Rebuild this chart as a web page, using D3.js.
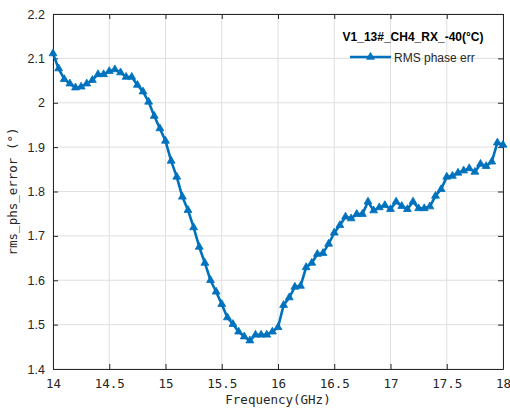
<!DOCTYPE html>
<html>
<head>
<meta charset="utf-8">
<script src="https://cdn.jsdelivr.net/npm/d3@7"></script>
<style>
  html, body { margin: 0; padding: 0; background: #fff; }
  svg { display: block; }
</style>
</head>
<body>
<svg id="chart" width="510" height="410"></svg>
<script>
// Frequency sweep, 14–18 GHz in 0.05 GHz steps
const freqStart = 14;
const freqStep = 0.05;
const rmsPhaseErr = [
  2.111, 2.077, 2.053, 2.043, 2.034, 2.036, 2.043, 2.051, 2.064, 2.064,
  2.071, 2.075, 2.068, 2.058, 2.058, 2.040, 2.025, 2.002, 1.970, 1.942,
  1.914, 1.869, 1.833, 1.788, 1.758, 1.719, 1.675, 1.639, 1.600, 1.574,
  1.546, 1.516, 1.501, 1.484, 1.473, 1.464, 1.477, 1.477, 1.477, 1.484,
  1.494, 1.544, 1.561, 1.585, 1.587, 1.629, 1.639, 1.659, 1.661, 1.682,
  1.707, 1.724, 1.743, 1.739, 1.749, 1.749, 1.777, 1.757, 1.764, 1.769,
  1.760, 1.777, 1.767, 1.760, 1.777, 1.762, 1.762, 1.766, 1.790, 1.805,
  1.833, 1.835, 1.842, 1.847, 1.852, 1.844, 1.862, 1.857, 1.867, 1.910,
  1.905
];
const freqs = rmsPhaseErr.map((_, i) => +(freqStart + i * freqStep).toFixed(2));

const xTicks = [14, 14.5, 15, 15.5, 16, 16.5, 17, 17.5, 18];
const yTicks = [1.4, 1.5, 1.6, 1.7, 1.8, 1.9, 2.0, 2.1, 2.2];
const legendTitle = "V1_13#_CH4_RX_-40(°C)";
const seriesName = "RMS phase err";
const xTitle = "Frequency(GHz)";
const yTitle = "rms_phs_error (°)";

const svg = d3.select("#chart");
const m = { left: 53, right: 503, top: 14, bottom: 369 };

const x = d3.scaleLinear().domain([14, 18]).range([m.left, m.right]);
const y = d3.scaleLinear().domain([1.4, 2.2]).range([m.bottom, m.top]);

const blue = "#0072BD";
const axisColor = "#262626";
const monoFont = "'DejaVu Sans Mono', monospace";
const sansFont = "'Liberation Sans', Arial, sans-serif";

// grid
const grid = svg.append("g");
grid.selectAll("line.gx").data(xTicks).join("line")
  .attr("x1", d => x(d)).attr("x2", d => x(d))
  .attr("y1", m.top).attr("y2", m.bottom)
  .attr("stroke", "#dfdfdf").attr("stroke-width", 1);
grid.selectAll("line.gy").data(yTicks).join("line")
  .attr("x1", m.left).attr("x2", m.right)
  .attr("y1", d => y(d)).attr("y2", d => y(d))
  .attr("stroke", "#dfdfdf").attr("stroke-width", 1);

// axes with inward ticks
const xAxis = d3.axisBottom(x).tickValues(xTicks).tickSizeInner(-5).tickSizeOuter(0)
  .tickPadding(10).tickFormat(d3.format("~g"));
const yAxis = d3.axisLeft(y).tickValues(yTicks).tickSizeInner(-5).tickSizeOuter(0)
  .tickPadding(8).tickFormat(d3.format(".1f"));
const xAxisTop = d3.axisTop(x).tickValues(xTicks).tickSizeInner(-5).tickSizeOuter(0).tickFormat("");
const yAxisRight = d3.axisRight(y).tickValues(yTicks).tickSizeInner(-5).tickSizeOuter(0).tickFormat("");

function styleAxis(g) {
  g.select(".domain").attr("stroke", axisColor);
  g.selectAll(".tick line").attr("stroke", axisColor);
  g.selectAll(".tick text").attr("fill", axisColor);
}

svg.append("g").attr("transform", `translate(0,${m.bottom})`).call(xAxis).call(styleAxis)
  .attr("font-family", monoFont).attr("font-size", 12.5);
svg.append("g").attr("transform", `translate(${m.left},0)`).call(yAxis).call(styleAxis)
  .attr("font-family", sansFont).attr("font-size", 12.5)
  .selectAll(".tick text")
  .text(d => d === 2 ? "2" : d3.format(".1f")(d));
svg.append("g").attr("transform", `translate(0,${m.top})`).call(xAxisTop).call(styleAxis);
svg.append("g").attr("transform", `translate(${m.right},0)`).call(yAxisRight).call(styleAxis);

// axis titles
svg.append("text")
  .attr("x", (m.left + m.right) / 2).attr("y", 404)
  .attr("text-anchor", "middle")
  .attr("font-family", monoFont).attr("font-size", 12.5).attr("fill", axisColor)
  .text(xTitle);
svg.append("text")
  .attr("transform", `translate(17,${(m.top + m.bottom) / 2}) rotate(-90)`)
  .attr("text-anchor", "middle")
  .attr("font-family", monoFont).attr("font-size", 12.5).attr("fill", axisColor)
  .text(yTitle);

// data line
const pts = freqs.map((f, i) => [f, rmsPhaseErr[i]]);
svg.append("path")
  .datum(pts)
  .attr("fill", "none")
  .attr("stroke", blue)
  .attr("stroke-width", 2.6)
  .attr("stroke-linejoin", "round")
  .attr("d", d3.line().x(d => x(d[0])).y(d => y(d[1])));

const tri = d3.symbol().type(d3.symbolTriangle).size(27);
svg.append("g").selectAll("path").data(pts).join("path")
  .attr("transform", d => `translate(${x(d[0])},${y(d[1])})`)
  .attr("d", tri)
  .attr("fill", blue)
  .attr("stroke", blue)
  .attr("stroke-width", 0.8);

// legend
const lg = svg.append("g");
lg.append("text")
  .attr("x", 413).attr("y", 41)
  .attr("text-anchor", "middle")
  .attr("font-family", sansFont).attr("font-size", 12).attr("font-weight", "bold")
  .attr("fill", "#000")
  .text(legendTitle);
lg.append("line")
  .attr("x1", 350).attr("x2", 391).attr("y1", 57).attr("y2", 57)
  .attr("stroke", blue).attr("stroke-width", 2.6);
lg.append("path")
  .attr("transform", "translate(370.5,57)")
  .attr("d", tri)
  .attr("fill", blue).attr("stroke", blue).attr("stroke-width", 0.8);
lg.append("text")
  .attr("x", 394).attr("y", 61.5)
  .attr("font-family", sansFont).attr("font-size", 12).attr("fill", "#262626")
  .text(seriesName);
</script>
</body>
</html>
